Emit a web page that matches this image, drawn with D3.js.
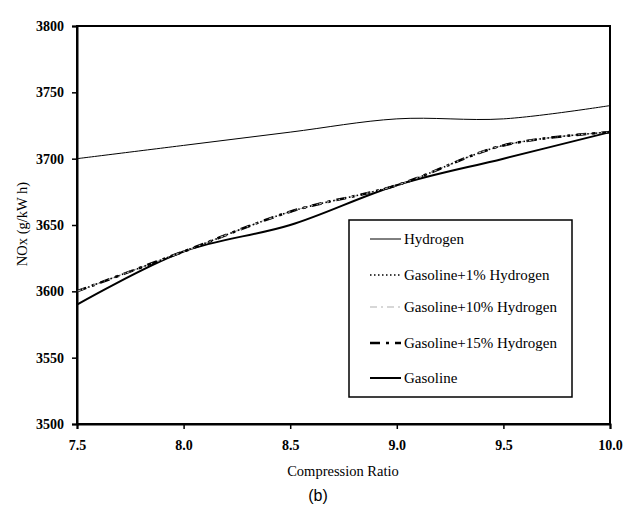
<!DOCTYPE html>
<html><head><meta charset="utf-8">
<script src="https://cdn.jsdelivr.net/npm/d3@7"></script>
<style>body{margin:0;background:#fff}svg{display:block}</style>
</head><body><svg id="c" width="624" height="506"></svg>
<script>
const ratios = [7.5, 8.0, 8.5, 9.0, 9.5, 10.0];
const hydrogen = [3700, 3710, 3720, 3730, 3730, 3740];
const gas1 = [3600, 3630, 3660, 3680, 3710, 3720];
const gas10 = [3600, 3630, 3660, 3680, 3710, 3720];
const gas15 = [3600, 3630, 3660, 3680, 3710, 3720];
const gasoline = [3590, 3630, 3650, 3680, 3700, 3720];
const yTicks = [3500, 3550, 3600, 3650, 3700, 3750, 3800];
const xTicks = [7.5, 8.0, 8.5, 9.0, 9.5, 10.0];
const seriesNames = ["Hydrogen", "Gasoline+1% Hydrogen", "Gasoline+10% Hydrogen", "Gasoline+15% Hydrogen", "Gasoline"];

const styles = [
  {color:"#000", width:1, dash:null},
  {color:"#000", width:1.6, dash:"1.5,2.5"},
  {color:"#b0b0b0", width:1.2, dash:"7,4,2,4"},
  {color:"#000", width:2.6, dash:"10,6,3,6"},
  {color:"#000", width:2, dash:null}
];
const allData = [hydrogen, gas1, gas10, gas15, gasoline];

const SERIF = '"Liberation Serif"';
const svg = d3.select("#c");
const L = 77, R = 610, T = 26, B = 424;
const x = d3.scaleLinear().domain([7.5, 10]).range([L, R]);
const y = d3.scaleLinear().domain([3500, 3800]).range([B, T]);

svg.append("rect").attr("x", L).attr("y", T).attr("width", R - L).attr("height", B - T)
  .attr("fill", "none").attr("stroke", "#000").attr("stroke-width", 2);

const ya = svg.append("g").attr("transform", `translate(${L},0)`)
  .call(d3.axisLeft(y).tickValues(yTicks).tickFormat(d3.format("d")).tickSize(5).tickPadding(8));
const xa = svg.append("g").attr("transform", `translate(0,${B})`)
  .call(d3.axisBottom(x).tickValues(xTicks).tickFormat(d3.format(".1f")).tickSize(5).tickPadding(11));
[ya, xa].forEach(a => {
  a.select(".domain").attr("stroke-width", 2);
  a.selectAll(".tick line").attr("stroke-width", 1.5);
  a.selectAll("text").style("font-family", SERIF).style("font-weight", "bold")
    .style("font-size", "14px").attr("fill", "#000");
});

const line = d3.line().x((d, i) => x(ratios[i])).y(d => y(d)).curve(d3.curveCatmullRom.alpha(0.5));
[4, 3, 2, 1, 0].forEach(k => {
  const s = styles[k];
  svg.append("path").datum(allData[k]).attr("d", line)
    .attr("fill", "none").attr("stroke", s.color).attr("stroke-width", s.width)
    .attr("stroke-dasharray", s.dash);
});

const lg = svg.append("g");
lg.append("rect").attr("x", 349).attr("y", 220).attr("width", 223).attr("height", 177)
  .attr("fill", "#fff").attr("stroke", "#000").attr("stroke-width", 1.5);
const ly = [239, 275, 307, 343, 378];
seriesNames.forEach((n, k) => {
  const s = styles[k];
  lg.append("line").attr("x1", 370).attr("x2", 401).attr("y1", ly[k]).attr("y2", ly[k])
    .attr("stroke", s.color).attr("stroke-width", s.width).attr("stroke-dasharray", s.dash);
  lg.append("text").attr("x", 404).attr("y", ly[k] + 5).text(n)
    .style("font-family", SERIF).style("font-size", "15px").attr("fill", "#000");
});

svg.append("text").attr("x", 343).attr("y", 476).attr("text-anchor", "middle")
  .style("font-family", SERIF).style("font-size", "14.5px").text("Compression Ratio");
svg.append("text").attr("transform", "translate(27,224) rotate(-90)").attr("text-anchor", "middle")
  .style("font-family", SERIF).style("font-size", "14.5px").text("NOx (g/kW h)");
svg.append("text").attr("x", 318).attr("y", 501).attr("text-anchor", "middle")
  .style("font-family", '"Liberation Sans"').style("font-size", "16px").text("(b)");
</script></body></html>
